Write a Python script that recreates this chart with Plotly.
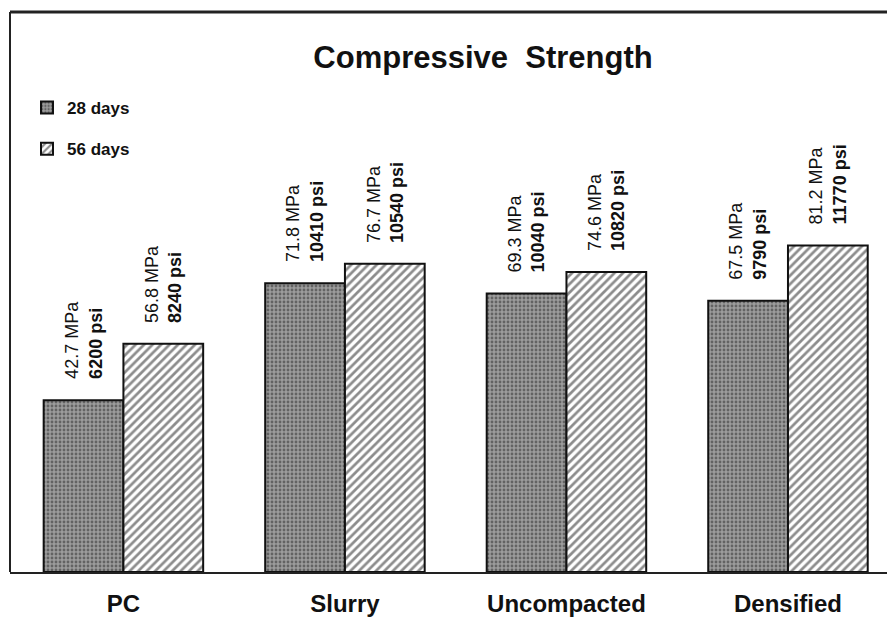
import plotly.graph_objects as go

categories = ["PC", "Slurry", "Uncompacted", "Densified"]
mpa_28 = [42.7, 71.8, 69.3, 67.5]
psi_28 = [6200, 10410, 10040, 9790]
mpa_56 = [56.8, 76.7, 74.6, 81.2]
psi_56 = [8240, 10540, 10820, 11770]
series_names = ["28 days", "56 days"]

FONT = "Liberation Sans, Arial, Helvetica, sans-serif"
BARGAP = 0.28

fig = go.Figure()
fig.add_trace(go.Bar(
    x=categories, y=mpa_28, name=series_names[0],
    legendgroup="a",
    marker=dict(color="#8f8f8f", line=dict(color="#111111", width=2),
                pattern=dict(shape=".", bgcolor="#9c9c9c", fgcolor="#2a2a2a",
                             size=4, solidity=0.4)),
))
fig.add_trace(go.Bar(
    x=categories, y=mpa_56, name=series_names[1],
    legendgroup="b",
    marker=dict(color="white", line=dict(color="#111111", width=2),
                pattern=dict(shape="/", bgcolor="white", fgcolor="#1a1a1a",
                             size=6, solidity=0.45)),
))

off = (1 - BARGAP) / 4
for series, (mv, pv) in enumerate([(mpa_28, psi_28), (mpa_56, psi_56)]):
    sign = -1 if series == 0 else 1
    for i, (m, p) in enumerate(zip(mv, pv)):
        fig.add_annotation(
            x=i + sign * off, y=m, xref="x", yref="y",
            text=f"{m:.1f} MPa<br><b>{p} psi</b>",
            textangle=-90, showarrow=False, align="left",
            xanchor="center", yanchor="bottom", yshift=19,
            font=dict(family=FONT, size=18, color="#111111"),
        )

# frame lines (top and left)
fig.add_shape(type="line", xref="paper", yref="paper", x0=0, x1=1, y0=1, y1=1,
              line=dict(color="#222222", width=3))
fig.add_shape(type="line", xref="paper", yref="paper", x0=0, x1=0, y0=0, y1=1,
              line=dict(color="#222222", width=2))

fig.update_layout(
    width=887, height=621,
    margin=dict(l=10, r=0, t=12, b=49, autoexpand=False),
    paper_bgcolor="white", plot_bgcolor="white",
    barmode="group", bargap=BARGAP, bargroupgap=0,
    font=dict(family=FONT, color="#111111"),
    title=dict(text="<b>Compressive  Strength</b>", x=483/887, xanchor="center",
               y=1 - 57/621, yanchor="middle", xref="container", yref="container",
               font=dict(family=FONT, size=31, color="#111111")),
    legend=dict(xref="container", yref="container", x=27/887, y=1 - 90/621,
                xanchor="left", yanchor="top", traceorder="grouped",
                tracegroupgap=16, bgcolor="rgba(0,0,0,0)",
                font=dict(family=FONT, size=17, color="#111111", weight="bold")),
    xaxis=dict(range=[-0.512, 3.447], showgrid=False, zeroline=False,
               showline=True, linecolor="#222222", linewidth=2, ticks="",
               tickfont=dict(family=FONT, size=24, color="#111111", weight="bold"),
               ticklabelstandoff=9),
    yaxis=dict(range=[0, 139.3], showgrid=False, zeroline=False,
               showticklabels=False, ticks="", showline=False),
)

fig.write_html("out.html")
